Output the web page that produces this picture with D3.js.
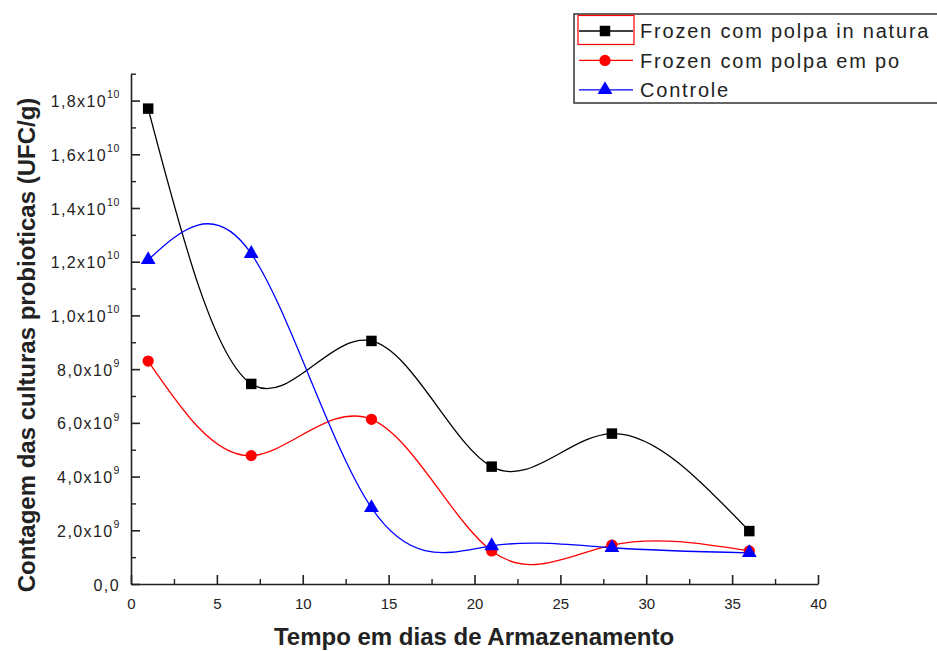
<!DOCTYPE html>
<html><head><meta charset="utf-8">
<script src="https://cdn.jsdelivr.net/npm/d3@7"></script>
<style>
html,body{margin:0;padding:0;background:#fff;}
svg{display:block;}
</style></head>
<body>
<svg id="c" width="937" height="651"></svg>
<script>
const days = [1, 7, 14, 21, 28, 36];
const inNatura = [1.77e10, 7.45e9, 9.05e9, 4.37e9, 5.6e9, 1.97e9];
const emPo = [8.3e9, 4.78e9, 6.13e9, 1.23e9, 1.45e9, 1.23e9];
const controle = [1.207e10, 1.23e10, 2.84e9, 1.42e9, 1.35e9, 1.16e9];
const seriesNames = ["Frozen com polpa in natura", "Frozen com polpa em po", "Controle"];
const seriesColors = ["#000000", "#ff0000", "#0000ff"];
const seriesSymbols = ["square", "circle", "triangle"];
const xTicks = [0, 5, 10, 15, 20, 25, 30, 35, 40];
const yTicks = [0, 2e9, 4e9, 6e9, 8e9, 1e10, 1.2e10, 1.4e10, 1.6e10, 1.8e10];
const yTickMantissa = ["0,0", "2,0", "4,0", "6,0", "8,0", "1,0", "1,2", "1,4", "1,6", "1,8"];
const yTickExponent = ["", "9", "9", "9", "9", "10", "10", "10", "10", "10"];
const xTitle = "Tempo em dias de Armazenamento";
const yTitle = "Contagem das culturas probioticas (UFC/g)";

const svg = d3.select("#c");
const x = d3.scaleLinear().domain([0, 40]).range([131, 818]);
const y = d3.scaleLinear().domain([0, 1.9e10]).range([584, 73.7]);

const font = "Arial, 'Liberation Sans', sans-serif";
const txtCol = "#222";

// minor ticks
svg.append("g").attr("transform", "translate(0,584)")
  .call(d3.axisBottom(x).tickValues(d3.range(2.5, 40, 5)).tickSize(-5).tickFormat(""))
  .call(g => g.select(".domain").remove())
  .call(g => g.selectAll("line").attr("stroke", "#222").attr("stroke-width", 1.4));
svg.append("g").attr("transform", "translate(131,0)")
  .call(d3.axisLeft(y).tickValues(d3.range(1e9, 1.95e10, 2e9)).tickSize(-5).tickFormat(""))
  .call(g => g.select(".domain").remove())
  .call(g => g.selectAll("line").attr("stroke", "#222").attr("stroke-width", 1.4));

// major axes
const gx = svg.append("g").attr("transform", "translate(0,584)")
  .call(d3.axisBottom(x).tickValues(xTicks).tickSizeInner(-9).tickSizeOuter(0).tickPadding(14).tickFormat(d3.format("d")));
const gy = svg.append("g").attr("transform", "translate(131,0)")
  .call(d3.axisLeft(y).tickValues(yTicks).tickSizeInner(-9).tickSizeOuter(0).tickPadding(12).tickFormat(""));
[gx, gy].forEach(g => {
  g.selectAll("path, line").attr("stroke", "#222").attr("stroke-width", 1.6);
});
gx.selectAll("text").attr("font-family", font).attr("font-size", 15).attr("fill", txtCol);

// y tick labels with superscripts
gy.selectAll(".tick").each(function(d, i) {
  const t = d3.select(this).append("text")
    .attr("x", -11).attr("dy", "0.38em")
    .attr("text-anchor", "end")
    .attr("font-family", font).attr("font-size", 16).attr("fill", txtCol)
    .attr("letter-spacing", 1.4);
  if (yTickExponent[i]) {
    t.append("tspan").text(yTickMantissa[i] + "x10");
    t.append("tspan").attr("font-size", 10.5).attr("dy", "-0.85em").attr("letter-spacing", 0.6).text(yTickExponent[i]);
  } else {
    t.text(yTickMantissa[i]);
  }
});

// titles
svg.append("text").attr("x", 474).attr("y", 645).attr("text-anchor", "middle")
  .attr("font-family", font).attr("font-weight", "bold").attr("font-size", 24)
  .attr("fill", txtCol).text(xTitle);
svg.append("text").attr("transform", "translate(35,345) rotate(-90)").attr("text-anchor", "middle")
  .attr("font-family", font).attr("font-weight", "bold").attr("font-size", 24)
  .attr("fill", txtCol).text(yTitle);

// series
const allSeries = [inNatura, emPo, controle];
const line = d3.line().x(d => x(d[0])).y(d => y(d[1])).curve(d3.curveNatural);
const symGen = {
  square: d3.symbol().type(d3.symbolSquare).size(110),
  circle: d3.symbol().type(d3.symbolCircle).size(100),
  triangle: d3.symbol().type(d3.symbolTriangle).size(95)
};
allSeries.forEach((vals, si) => {
  const pts = days.map((d, i) => [d, vals[i]]);
  svg.append("path").datum(pts).attr("d", line)
    .attr("fill", "none").attr("stroke", seriesColors[si]).attr("stroke-width", 1.3);
});
allSeries.forEach((vals, si) => {
  const pts = days.map((d, i) => [d, vals[i]]);
  svg.selectAll(null).data(pts).enter().append("path")
    .attr("transform", d => `translate(${x(d[0])},${y(d[1])})`)
    .attr("d", symGen[seriesSymbols[si]]())
    .attr("fill", seriesColors[si]);
});

// legend
const lg = svg.append("g");
lg.append("rect").attr("x", 574).attr("y", 14).attr("width", 380).attr("height", 89)
  .attr("fill", "#fff").attr("stroke", "#333").attr("stroke-width", 1.5);
lg.append("rect").attr("x", 578).attr("y", 15.5).attr("width", 56).attr("height", 29)
  .attr("fill", "none").attr("stroke", "#ff0000").attr("stroke-width", 1.2);
seriesNames.forEach((name, i) => {
  const cy = 31 + i * 29.4;
  lg.append("line").attr("x1", 579).attr("x2", 633).attr("y1", cy).attr("y2", cy)
    .attr("stroke", seriesColors[i]).attr("stroke-width", 1.3);
  lg.append("path").attr("transform", `translate(605,${cy})`)
    .attr("d", symGen[seriesSymbols[i]]()).attr("fill", seriesColors[i]);
  lg.append("text").attr("x", 640).attr("y", cy + 7.3)
    .attr("font-family", font).attr("font-size", 20).attr("fill", txtCol)
    .attr("letter-spacing", 1.8).text(name);
});
</script>
</body></html>
